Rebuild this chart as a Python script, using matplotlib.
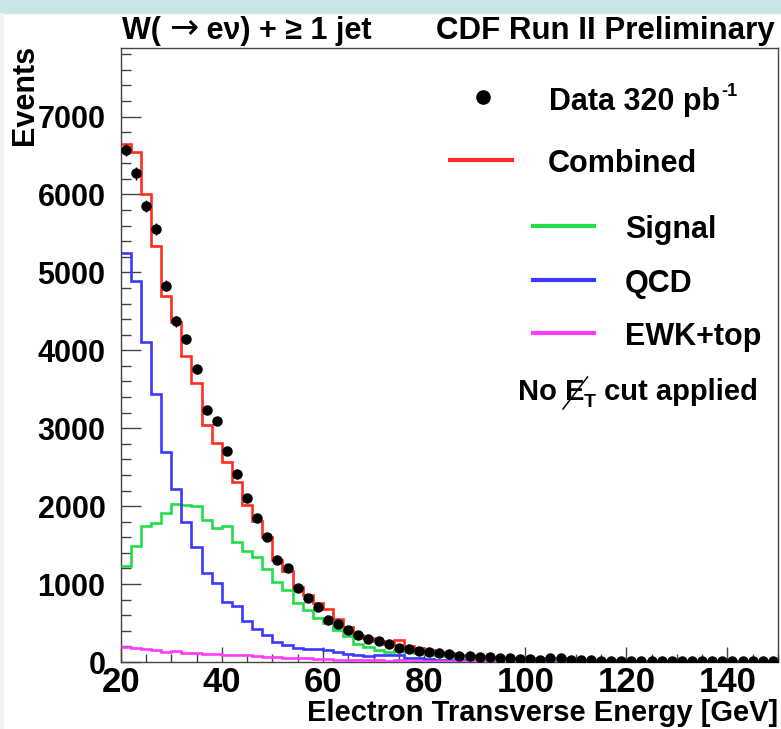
import numpy as np
import matplotlib
matplotlib.use("Agg")
import matplotlib.pyplot as plt
from matplotlib.lines import Line2D
from matplotlib.patches import Rectangle
from matplotlib.ticker import MultipleLocator

# electron ET histograms, 2 GeV bins from 20 to 150 GeV
bin_lo = 20
bin_hi = 150
bin_width = 2

data_counts = [6570, 6270, 5850, 5555, 4830, 4370, 4145, 3755, 3235, 3095,
               2710, 2410, 2105, 1850, 1605, 1310, 1203, 946, 825, 700,
               545, 486, 411, 350, 292, 268, 235, 184, 163, 136,
               126, 111, 98, 79, 78, 70, 60, 57, 55, 38,
               38, 30, 47, 45, 26, 25, 20, 18, 18, 17,
               16, 18, 15, 17, 14, 14, 13, 14, 12, 12,
               11, 10, 12, 9, 8]

combined = [6650, 6540, 6000, 5340, 4700, 4365, 3930, 3585, 3042, 2815,
            2571, 2310, 2015, 1810, 1608, 1309, 1168, 967, 860, 761,
            680, 555, 455, 347, 304, 265, 231, 285, 205, 175,
            154, 130, 110, 95, 82, 72, 62, 55, 50, 45,
            55, 42, 52, 45, 35, 30, 27, 24, 22, 20,
            18, 17, 16, 15, 14, 13, 12, 11, 10, 10,
            9, 8, 8, 7, 7]

signal = [1232, 1485, 1740, 1785, 1912, 2024, 2020, 2000, 1820, 1722,
          1742, 1535, 1427, 1344, 1195, 1030, 925, 761, 662, 561,
          505, 411, 330, 230, 195, 160, 125, 160, 130, 115,
          100, 88, 76, 66, 58, 50, 44, 39, 35, 31,
          38, 29, 37, 32, 25, 22, 20, 18, 16, 15,
          13, 12, 12, 11, 10, 10, 9, 8, 8, 7,
          7, 6, 6, 5, 5]

qcd = [5245, 4895, 4108, 3440, 2700, 2216, 1800, 1480, 1138, 1010,
       768, 725, 528, 420, 347, 254, 214, 186, 170, 170,
       150, 125, 105, 95, 80, 85, 88, 90, 55, 45,
       38, 30, 24, 20, 16, 14, 11, 9, 8, 7,
       8, 6, 7, 6, 5, 4, 4, 3, 3, 3,
       2, 2, 2, 2, 2, 1, 1, 1, 1, 1,
       1, 1, 1, 1, 1]

ewk_top = [190, 180, 170, 155, 125, 140, 120, 112, 105, 100,
           95, 90, 84, 76, 70, 62, 56, 50, 45, 40,
           36, 32, 29, 26, 23, 20, 18, 20, 16, 14,
           13, 12, 11, 10, 9, 8, 8, 7, 7, 6,
           6, 5, 5, 5, 4, 4, 4, 4, 3, 3,
           3, 3, 3, 3, 2, 2, 2, 2, 2, 2,
           2, 2, 2, 2, 2]

edges = np.arange(bin_lo, bin_hi + bin_width, bin_width)
centers = edges[:-1] + bin_width / 2
data_counts = np.array(data_counts, dtype=float)

plt.rcParams['font.family'] = ['Liberation Sans', 'DejaVu Sans']
plt.rcParams['font.weight'] = 'bold'

W, H = 781, 729
fig = plt.figure(figsize=(W / 100, H / 100), dpi=100)
fig.patches.append(Rectangle((0, 1 - 13 / H), 1, 13 / H, transform=fig.transFigure,
                             color='#c8e5e8', zorder=0))
fig.patches.append(Rectangle((0, 0), 3 / W, 1 - 13 / H, transform=fig.transFigure,
                             color='#f3f3f3', zorder=0))


def fx(x):
    return x / W


def fy(y):
    return 1 - y / H


ax = fig.add_axes([fx(120.7), fy(662), (778 - 120.7) / W, (662 - 48) / H])

RED = '#ff2d1e'
GREEN = '#22dd4a'
BLUE = '#3a3aff'
MAGENTA = '#ff3cff'

ax.stairs(combined, edges, baseline=None, color=RED, lw=1.9, zorder=3)
ax.stairs(signal, edges, baseline=None, color=GREEN, lw=1.9, zorder=3)
ax.stairs(qcd, edges, baseline=None, color=BLUE, lw=1.9, zorder=3)
ax.stairs(ewk_top, edges, baseline=None, color=MAGENTA, lw=1.9, zorder=3)
ax.errorbar(centers, data_counts, yerr=np.sqrt(data_counts), fmt='o', color='black',
            ms=6.5, elinewidth=1, capsize=0, zorder=5)

ax.set_xlim(bin_lo, bin_hi)
ax.set_ylim(0, 7880)
ax.xaxis.set_major_locator(MultipleLocator(20))
ax.xaxis.set_minor_locator(MultipleLocator(5))
ax.yaxis.set_major_locator(MultipleLocator(1000))
ax.yaxis.set_minor_locator(MultipleLocator(200))
ax.tick_params(which='both', direction='in', top=False, right=False, color='#444444')
ax.tick_params(axis='x', which='major', length=11, width=1, labelsize=25, pad=3)
ax.tick_params(axis='x', which='minor', length=5.5, width=1)
ax.tick_params(axis='y', which='major', length=14.5, width=1, labelsize=22, pad=11)
ax.tick_params(axis='y', which='minor', length=7.2, width=1)
for sp in ax.spines.values():
    sp.set_color('#444444')
    sp.set_linewidth(1.0)

fig.text(fx(778), fy(721), "Electron Transverse Energy [GeV]", fontsize=21,
         ha='right', va='baseline')
fig.text(fx(25), fy(45), "Events", fontsize=22, rotation=90, ha='center', va='top')

r = fig.canvas.get_renderer()

# header: process label on the left, experiment tag on the right
t_w = fig.text(fx(122), fy(39), "W( ", fontsize=22, ha='left', va='baseline')
bw = t_w.get_window_extent(r)
t_arr = fig.text(bw.x1 / W, fy(37), "\u2192", fontsize=25, family='DejaVu Sans',
                 weight='normal', ha='left', va='baseline')
ba = t_arr.get_window_extent(r)
fig.text(ba.x1 / W, fy(39), " e\u03bd) + \u2265 1 jet", fontsize=22, ha='left', va='baseline')
fig.text(fx(775), fy(39), "CDF Run II Preliminary", fontsize=22.5,
         ha='right', va='baseline')

# legend, drawn by hand in ROOT fashion
fig.add_artist(Line2D([fx(483)], [fy(97)], marker='o', color='black', ms=9.5,
                      transform=fig.transFigure))
t_data = fig.text(fx(549), fy(110), "Data 320 pb", fontsize=22, ha='left', va='baseline')
bd = t_data.get_window_extent(r)
fig.text((bd.x1 + 1) / W, fy(96), "-1", fontsize=13, ha='left', va='baseline')
fig.add_artist(Line2D([fx(450), fx(512)], [fy(160), fy(160)], color=RED, lw=3,
                      transform=fig.transFigure))
fig.text(fx(548), fy(172), "Combined", fontsize=22, ha='left', va='baseline')
for yy, col, name in [(226, GREEN, "Signal"), (280, BLUE, "QCD"), (333, MAGENTA, "EWK+top")]:
    fig.add_artist(Line2D([fx(533), fx(594)], [fy(yy), fy(yy)], color=col, lw=3,
                          transform=fig.transFigure))
    fig.text(fx(625), fy(yy + 12), name, fontsize=22, ha='left', va='baseline')

# "No MET cut applied" with a slashed E_T
base = fy(400)
t_no = fig.text(fx(518), base, "No ", fontsize=21, ha='left', va='baseline')
bb = t_no.get_window_extent(r)
t_e = fig.text(bb.x1 / W, base, "E", fontsize=21, ha='left', va='baseline')
be = t_e.get_window_extent(r)
t_t = fig.text((be.x1 - 1) / W, base - 7 / H, "T", fontsize=14, ha='left', va='baseline')
bt = t_t.get_window_extent(r)
fig.text(bt.x1 / W, base, " cut applied", fontsize=21, ha='left', va='baseline')
fig.add_artist(Line2D([(be.x0 - 2) / W, (be.x1 + 3) / W],
                      [(be.y0 - 3) / H, (be.y1 + 1) / H], color='black', lw=1.1,
                      transform=fig.transFigure))

fig.savefig("out.png", dpi=100)
